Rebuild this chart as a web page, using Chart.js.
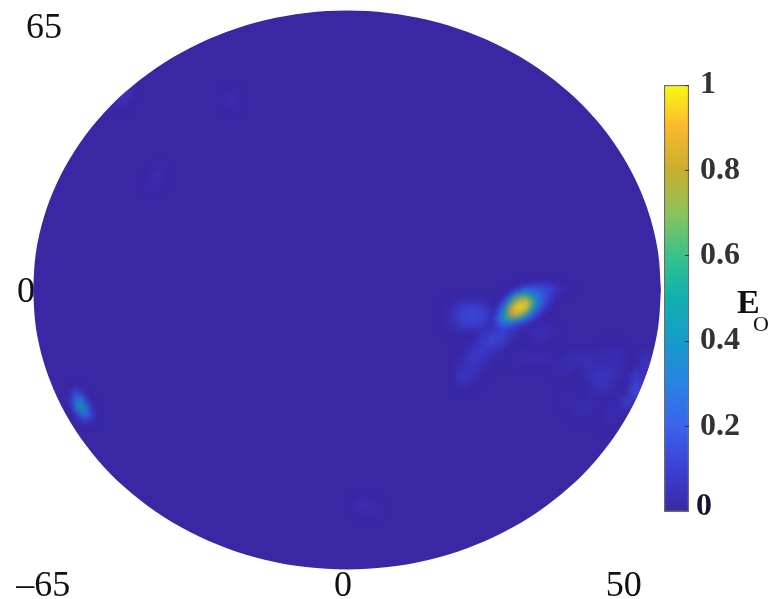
<!DOCTYPE html>
<html>
<head>
<meta charset="utf-8">
<script src="https://cdn.jsdelivr.net/npm/chart.js@4/dist/chart.umd.min.js"></script>
<style>
body { margin: 0; background: #fff; }
#wrap { position: relative; width: 770px; height: 599px; overflow: hidden; }
#map { position: absolute; left: 0; top: 0; }
#bar { position: absolute; left: 660px; top: 70px; }
.lab { position: absolute; font-family: "Liberation Serif", serif; color: #111; line-height: 1; }
</style>
</head>
<body>
<div id="wrap">
<canvas id="map" width="770" height="599"></canvas>
<canvas id="bar" width="100" height="460"></canvas>
<span class="lab" style="left:737px;top:285px;font-size:34px;font-weight:bold;">E</span>
<span class="lab" style="left:753px;top:313px;font-size:22px;">O</span>
</div>
<script>
// outline of the map, upper half (lower half is the mirror)
var diskLon = [-65, -64.44, -62.79, -60.05, -56.29, -51.57, -45.96, -39.57, -32.5, -24.87, -16.82, -8.48, 0,
    8.48, 16.82, 24.87, 32.5, 39.57, 45.96, 51.57, 56.29, 60.05, 62.79, 64.44, 65];
var diskLat = [0, 8.48, 16.82, 24.87, 32.5, 39.57, 45.96, 51.57, 56.29, 60.05, 62.79, 64.44, 65,
    64.44, 62.79, 60.05, 56.29, 51.57, 45.96, 39.57, 32.5, 24.87, 16.82, 8.48, 0];

// the printed labels are not evenly spaced, so each has its own position
var xTickValues = [-62.9, -0.8, 57.3];
var xTickLabels = ["\u201365", "0", "50"];
var yTickValues = [-0.5, 60.8];
var yTickLabels = ["0", " 65"];

// main hot spot, one cell per degree
var hotLon = [30, 31, 32, 33, 34, 35, 36, 37, 38, 39, 40, 41, 42, 43, 44, 45, 46];
var hotLat = [2, 1, 0, -1, -2, -3, -4, -5, -6, -7, -8, -9];
var hotValues = [
    [0, 0, 0, 0, 0, 0, 0, 0, 0, .02, .03, .03, .02, 0, 0, 0, 0],
    [0, 0, 0, 0, 0, 0, .03, .06, .08, .1, .1, .1, .08, .05, .02, 0, 0],
    [0, 0, 0, 0, .02, .08, .15, .22, .22, .2, .17, .15, .12, .07, .05, .03, .01],
    [0, 0, 0, .02, .1, .28, .42, .45, .38, .3, .22, .15, .1, .05, .03, .01, 0],
    [0, 0, .02, .1, .35, .6, .72, .7, .55, .38, .25, .15, .07, .03, 0, 0, 0],
    [0, 0, .06, .25, .55, .82, .95, .95, .7, .42, .25, .12, .04, 0, 0, 0, 0],
    [0, .03, .15, .4, .75, .97, 1, .95, .6, .32, .17, .07, .02, 0, 0, 0, 0],
    [0, .06, .25, .5, .85, .95, .92, .68, .4, .2, .1, .03, 0, 0, 0, 0, 0],
    [.02, .1, .3, .55, .75, .72, .6, .4, .2, .1, .03, 0, 0, 0, 0, 0, 0],
    [.04, .12, .3, .42, .42, .35, .25, .15, .07, .03, 0, 0, 0, 0, 0, 0, 0],
    [.05, .1, .18, .2, .18, .12, .08, .04, .01, 0, 0, 0, 0, 0, 0, 0, 0],
    [.05, .08, .1, .1, .08, .05, .02, 0, 0, 0, 0, 0, 0, 0, 0, 0, 0]
];

// spot at the lower left edge
var leftLon = [-58, -57, -56, -55, -54, -53, -52];
var leftLat = [-23, -24, -25, -26, -27, -28, -29, -30, -31];
var leftValues = [
    [0, .03, .06, .03, 0, 0, 0],
    [0, .06, .14, .08, .02, 0, 0],
    [0, .08, .25, .2, .05, 0, 0],
    [0, .08, .32, .38, .12, .02, 0],
    [0, .05, .3, .45, .22, .05, 0],
    [0, .02, .18, .4, .3, .08, .02],
    [0, 0, .08, .22, .25, .12, .03],
    [0, 0, .02, .08, .12, .08, .02],
    [0, 0, 0, .02, .04, .03, 0]
];

// faint structures, lon / lat / value
var faintCells = [
    [22, -4, .03], [24, -4, .1], [26, -4, .12], [28, -4, .08],
    [22, -6, .06], [24, -6, .14], [26, -6, .16], [28, -6, .14], [30, -6, .1],
    [22, -8, .03], [24, -8, .1], [26, -8, .1], [28, -8, .08],
    [28, -10, .04], [30, -10, .12], [32, -10, .14], [34, -10, .06],
    [28, -12, .1], [30, -12, .14], [32, -12, .1],
    [26, -14, .06], [28, -14, .1], [30, -14, .06],
    [24, -16, .02], [26, -16, .09], [28, -16, .07],
    [24, -18, .05], [26, -18, .08], [28, -18, .03],
    [24, -20, .08], [26, -20, .05], [24, -22, .03],
    [38, -8, .03], [40, -8, .03], [38, -10, .03], [40, -10, .05], [42, -10, .03], [40, -12, .03],
    [36, -16, .02], [38, -16, .03], [40, -16, .03], [42, -16, .02], [44, -18, .02], [46, -18, .03],
    [46, -16, .03], [48, -16, .05], [50, -16, .05], [52, -16, .03], [54, -16, .04], [56, -16, .04],
    [50, -18, .05], [52, -18, .05], [54, -18, .04], [56, -18, .04], [54, -14, .02], [56, -14, .03],
    [50, -20, .04], [52, -20, .07], [54, -20, .07], [56, -20, .03],
    [52, -22, .07], [54, -22, .05], [50, -24, .02], [52, -24, .03], [54, -24, .03],
    [46, -26, .02], [48, -26, .02], [50, -26, .03], [52, -26, .02],
    [48, -28, .03], [50, -28, .03], [54, -28, .03], [56, -28, .03], [54, -30, .03], [56, -30, .02],
    [62, -16, .06], [62, -18, .08], [60, -20, .1], [60, -22, .12], [60, -24, .18], [58, -26, .12],
    [-46, 46, .07], [-47, 44, .05], [-24, 44, .04], [-39, 27, .04], [-40, 25, .03], [3, -50, .05], [5, -51, .03]
];

// colour map, evenly spaced from 0 to 1
var mapColors = ["#3a27a4", "#3d3fd6", "#3a62ee", "#2883e2", "#169bcb", "#10b0ae", "#38c28a",
    "#8cc35a", "#c8ae2e", "#fbb82e", "#f8fa12"];
var barTicks = [.2, .4, .6, .8, 1];
var barZeroTick = [.012]; // the 0 is printed a little above the end of the bar

function hexRgb(h) {
    return [parseInt(h.substr(1, 2), 16), parseInt(h.substr(3, 2), 16), parseInt(h.substr(5, 2), 16)];
}
function valueColor(v) {
    var p = Math.min(v, 1) * (mapColors.length - 1);
    var i = Math.min(Math.floor(p), mapColors.length - 2);
    var a = hexRgb(mapColors[i]), b = hexRgb(mapColors[i + 1]), t = p - i;
    return "rgb(" + [0, 1, 2].map(function (k) { return Math.round(a[k] + (b[k] - a[k]) * t); }).join(",") + ")";
}
// matrix to points, cold cells first so the hot ones end up on top
function cellsFromGrid(lons, lats, rows) {
    var out = [];
    rows.forEach(function (row, r) {
        row.forEach(function (v, c) {
            if (v > 0) out.push({ x: lons[c], y: lats[r], v: v });
        });
    });
    return out.sort(function (a, b) { return a.v - b.v; });
}
function heatSet(cells, radius, blur) {
    return {
        data: cells,
        showLine: false,
        pointStyle: "rect",
        pointRadius: radius,
        pointBorderWidth: 0,
        pointBackgroundColor: function (ctx) { return valueColor(ctx.raw ? ctx.raw.v : 0); },
        softBlur: blur
    };
}
// the labels may overhang the plot, so no room is reserved for them
function noLabelRoom(s) {
    s.paddingTop = 0;
    s.paddingBottom = 0;
    s.paddingLeft = 0;
    s.paddingRight = 0;
}

// soft cells, kept inside the map outline
var softCells = {
    id: "softCells",
    beforeDatasetDraw: function (chart, args) {
        var blur = chart.data.datasets[args.index].softBlur;
        if (!blur) return;
        var c = chart.ctx, sx = chart.scales.x, sy = chart.scales.y;
        var cx = sx.getPixelForValue(0), cy = sy.getPixelForValue(0);
        c.save();
        c.beginPath();
        c.ellipse(cx, cy, sx.getPixelForValue(65) - cx, cy - sy.getPixelForValue(65), 0, 0, Math.PI * 2);
        c.clip();
        c.filter = "blur(" + blur + "px)";
    },
    afterDatasetDraw: function (chart, args) {
        if (chart.data.datasets[args.index].softBlur) chart.ctx.restore();
    }
};

// datasets are painted last to first, so the disk goes at the end
new Chart("map", {
    type: "scatter",
    data: {
        datasets: [
            heatSet(cellsFromGrid(hotLon, hotLat, hotValues), 3.8, 1.9),
            heatSet(cellsFromGrid(leftLon, leftLat, leftValues), 3.6, 2),
            heatSet(faintCells.map(function (c) { return { x: c[0], y: c[1], v: c[2] }; })
                .sort(function (a, b) { return a.v - b.v; }), 7, 4),
            {
                data: diskLon.map(function (x, i) { return { x: x, y: diskLat[i] }; }),
                showLine: true, fill: "+1", tension: .34, borderWidth: 0, pointRadius: 0,
                backgroundColor: mapColors[0]
            },
            {
                data: diskLon.map(function (x, i) { return { x: x, y: -diskLat[i] }; }),
                showLine: true, fill: false, tension: .34, borderWidth: 0, pointRadius: 0
            }
        ]
    },
    options: {
        responsive: false,
        animation: false,
        events: [],
        layout: { padding: 0, autoPadding: false },
        plugins: { legend: { display: false }, tooltip: { enabled: false } },
        scales: {
            x: {
                type: "linear",
                min: -71.84,
                max: 87.58,
                grid: { display: false },
                border: { display: false },
                afterBuildTicks: function (s) { s.ticks = xTickValues.map(function (v) { return { value: v }; }); },
                afterFit: function (s) { s.height = 29; noLabelRoom(s); },
                ticks: {
                    autoSkip: false, maxRotation: 0, padding: -13, color: "#111",
                    font: { family: "Liberation Serif", size: 36 },
                    callback: function (v) { return xTickLabels[xTickValues.indexOf(v)]; }
                }
            },
            y: {
                min: -65.12,
                max: 67.44,
                grid: { display: false },
                border: { display: false },
                afterBuildTicks: function (s) { s.ticks = yTickValues.map(function (v) { return { value: v }; }); },
                afterFit: function (s) { s.width = 0; noLabelRoom(s); },
                ticks: {
                    autoSkip: false, mirror: true, padding: 17, color: "#111",
                    font: { family: "Liberation Serif", size: 36 },
                    callback: function (v) { return yTickLabels[yTickValues.indexOf(v)]; }
                }
            }
        }
    },
    plugins: [softCells]
});

// colour bar
new Chart("bar", {
    type: "bar",
    data: {
        labels: ["Eo"],
        datasets: [{
            data: [[0, 1]],
            categoryPercentage: 1,
            barPercentage: 1,
            borderColor: "#6b6b6b",
            borderWidth: 1.5,
            borderSkipped: false,
            backgroundColor: function (ctx) {
                var a = ctx.chart.chartArea;
                if (!a) return mapColors[0];
                var g = ctx.chart.ctx.createLinearGradient(0, a.bottom, 0, a.top);
                mapColors.forEach(function (c, i) { g.addColorStop(i / (mapColors.length - 1), c); });
                return g;
            }
        }]
    },
    options: {
        responsive: false,
        animation: false,
        events: [],
        layout: { padding: { left: 4, top: 15, bottom: 18, right: 0 }, autoPadding: false },
        plugins: { legend: { display: false }, tooltip: { enabled: false } },
        scales: {
            x: { display: false },
            yZero: {
                position: "right", min: 0, max: 1, weight: 2,
                grid: { display: false },
                border: { display: false },
                afterBuildTicks: function (s) { s.ticks = barZeroTick.map(function (v) { return { value: v }; }); },
                afterFit: function (s) { s.width = 0; noLabelRoom(s); },
                ticks: {
                    mirror: true, padding: -48, color: "#141432",
                    font: { family: "Liberation Serif", size: 32, weight: "bold" },
                    callback: function () { return "0"; }
                }
            },
            y: {
                position: "right", min: 0, max: 1, weight: 1,
                grid: { drawOnChartArea: false, tickLength: -4, color: "#333", z: 1 },
                border: { display: false },
                afterBuildTicks: function (s) { s.ticks = barTicks.map(function (v) { return { value: v }; }); },
                afterFit: function (s) { s.width = 71; noLabelRoom(s); },
                ticks: {
                    padding: 15, color: "#333",
                    font: { family: "Liberation Serif", size: 32, weight: "bold" },
                    callback: function (v) { return String(v); }
                }
            }
        }
    }
});
</script>
</body>
</html>
